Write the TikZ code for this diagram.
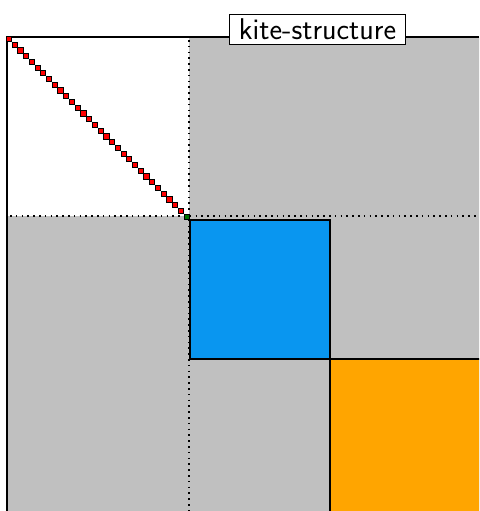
\documentclass[tikz,border=0pt]{standalone}
\usepackage{fontspec}
\begin{document}
\begin{tikzpicture}[x=1pt,y=-1pt,
  entry/.style={draw=black,line width=1pt,fill=red,minimum size=5.2pt,inner sep=0pt},
  lastentry/.style={entry,fill=green!45!black},
  blk/.style={draw=black,line width=1.5pt},
  sep/.style={line width=1.6pt,dash pattern=on 1.6pt off 4.2pt,black}]
\definecolor{matgray}{RGB}{192,192,192}
\definecolor{blkblue}{RGB}{9,150,240}
\definecolor{blkorange}{RGB}{255,165,0}
\useasboundingbox (0,0) rectangle (479,511);
\begin{scope}
\clip (0,0) rectangle (479,511);
% matrix background
\fill[matgray] (7,37) rectangle (500,530);
\fill[white] (7,37) rectangle (189,216);
% blocks
\filldraw[blk,fill=blkblue] (190,220) rectangle (330,359);
\filldraw[blk,fill=blkorange] (330,359) rectangle (500,530);
% separators
\draw[sep] (189,40) -- (189,511);
\draw[sep] (10,216) -- (479,216);
\draw[sep] (7,37) -- (189,37);
\draw[sep] (7,37) -- (7,216);
% outline
\draw[line width=1.5pt] (7,37) -- (479,37);
\draw[line width=1.5pt] (7,37) -- (7,511);
% diagonal entries
\foreach \i in {0,...,30} {
  \node[entry] (d\i) at ({9+\i*5.73},{39+\i*5.73}) {};
}
\node[lastentry] (d31) at (186.6,216.6) {};
\end{scope}
\node[draw=black,fill=white,line width=1pt,inner xsep=9pt,inner ysep=4pt,
  font=\sffamily\fontsize{30}{34}\selectfont] (title) at (317.5,29.5) {kite-structure};
\end{tikzpicture}
\end{document}
